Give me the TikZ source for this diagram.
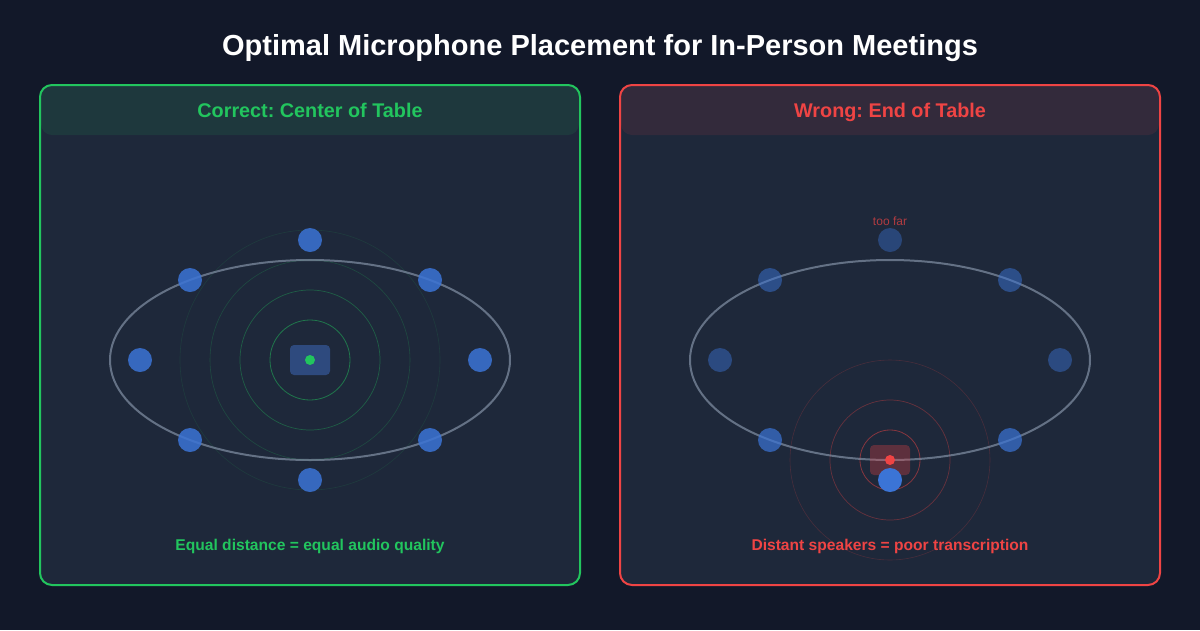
\documentclass[tikz,border=0pt]{standalone}
\usepackage{fontspec}
\setmainfont{Liberation Sans}
\frenchspacing
\definecolor{bgc}{HTML}{121829}
\definecolor{panel}{HTML}{1E283A}
\definecolor{okgreen}{HTML}{22C55E}
\definecolor{badred}{HTML}{EF4444}
\definecolor{seat}{HTML}{3B74D6}
\definecolor{tablec}{HTML}{94A3B8}
\definecolor{micbox}{HTML}{2E4A7E}
\begin{document}
\begin{tikzpicture}[x=1pt,y=-1pt,
  panelbox/.style={draw, line width=2pt, fill=panel, rounded corners=12pt},
  seatnode/.style={circle, fill=seat, inner sep=0pt, minimum size=24pt},
  tableoval/.style={draw=tablec, draw opacity=0.6, line width=2pt},
  ttl/.style={anchor=base, font=\bfseries\fontsize{19.8}{22}\selectfont},
  captext/.style={anchor=base, font=\bfseries\fontsize{15.6}{18}\selectfont}]
\fill[bgc] (0,0) rectangle (1200,630);
\useasboundingbox (0,0) rectangle (1200,630);
\node[anchor=base, text=white, font=\bfseries\fontsize{29}{32}\selectfont] (title) at (600,55) {Optimal Microphone Placement for In-Person Meetings};

% ---------- left panel ----------
\draw[panelbox, draw=okgreen] (40,85) rectangle (580,585);
\fill[okgreen, opacity=0.1, rounded corners=11pt] (41,86) rectangle (579,135);
\node[ttl, text=okgreen] (lhead) at (310,117) {Correct: Center of Table};
\draw[okgreen, line width=0.6pt, opacity=0.12] (310,360) circle (130);
\draw[okgreen, line width=0.6pt, opacity=0.22] (310,360) circle (100);
\draw[okgreen, line width=0.7pt, opacity=0.35] (310,360) circle (70);
\draw[okgreen, line width=0.8pt, opacity=0.5] (310,360) circle (40);
\draw[tableoval] (310,360) ellipse (200 and 100);
\node[fill=micbox, rounded corners=4pt, minimum width=40pt, minimum height=30pt, inner sep=0pt] (lmic) at (310,360) {};
\fill[okgreen] (lmic.center) circle (5);
\foreach \n/\x/\y in {t/310/240, b/310/480, l/140/360, r/480/360, ul/190/280, ur/430/280, ll/190/440, lr/430/440}
  \node[seatnode, fill opacity=0.85] (ls\n) at (\x,\y) {};
\node[captext, text=okgreen] (lcap) at (310,550) {Equal distance = equal audio quality};

% ---------- right panel ----------
\draw[panelbox, draw=badred] (620,85) rectangle (1160,585);
\fill[badred, opacity=0.1, rounded corners=11pt] (621,86) rectangle (1159,135);
\node[ttl, text=badred] (rhead) at (890,117) {Wrong: End of Table};
\draw[badred, line width=0.6pt, opacity=0.2] (890,460) circle (100);
\draw[badred, line width=0.7pt, opacity=0.35] (890,460) circle (60);
\draw[badred, line width=0.8pt, opacity=0.5] (890,460) circle (30);
\draw[tableoval] (890,360) ellipse (200 and 100);
\node[fill=badred, fill opacity=0.3, rounded corners=4pt, minimum width=40pt, minimum height=30pt, inner sep=0pt] (rmic) at (890,460) {};
\fill[badred] (rmic.center) circle (5);
\node[seatnode, fill opacity=0.4] (rst) at (890,240) {};
\node[seatnode, fill opacity=0.5] (rsul) at (770,280) {};
\node[seatnode, fill opacity=0.5] (rsur) at (1010,280) {};
\node[seatnode, fill opacity=0.45] (rsl) at (720,360) {};
\node[seatnode, fill opacity=0.45] (rsr) at (1060,360) {};
\node[seatnode, fill opacity=0.7] (rsll) at (770,440) {};
\node[seatnode, fill opacity=0.7] (rslr) at (1010,440) {};
\node[seatnode] (rsb) at (890,480) {};
\node[anchor=base, text=badred, text opacity=0.7, font=\fontsize{12}{14}\selectfont] (toofar) at (890,225) {too far};
\node[captext, text=badred] (rcap) at (890,550) {Distant speakers = poor transcription};
\end{tikzpicture}
\end{document}
